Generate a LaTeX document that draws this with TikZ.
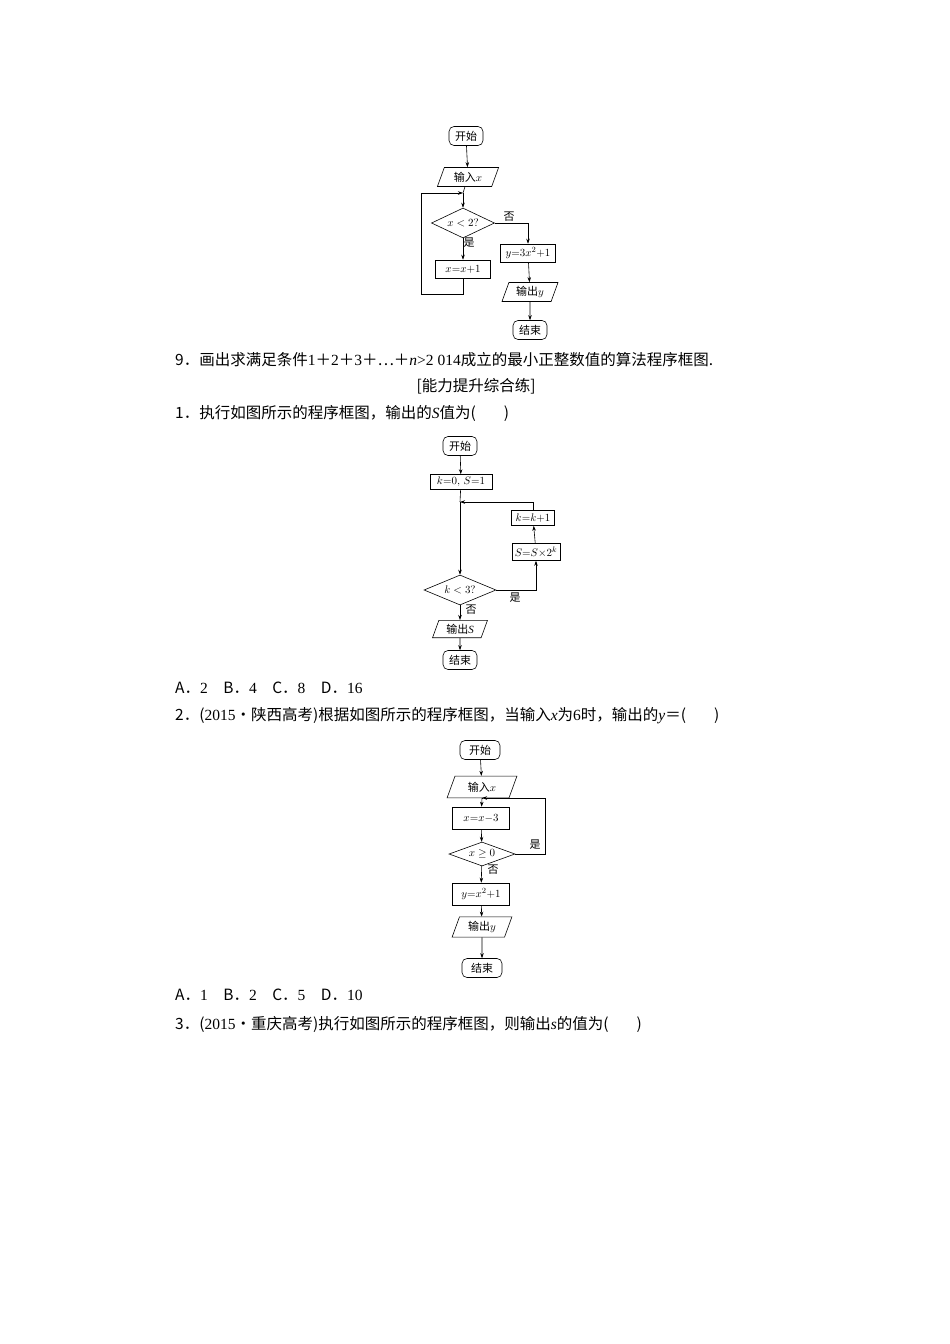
\documentclass[tikz,border=0pt]{standalone}
\usepackage{fontspec}
\setmainfont{Liberation Serif}
\newfontfamily\cjk{Noto Sans CJK SC}
\usetikzlibrary{shapes.geometric,arrows.meta}
\tikzset{
 base/.style={draw,line width=0.6pt,font=\fontsize{11}{13}\selectfont,inner sep=1pt},
 term/.style={base,rounded corners=5pt,minimum width=34pt,minimum height=19pt},
 proc/.style={base,rectangle,minimum height=18pt},
 io/.style={base,trapezium,trapezium left angle=70,trapezium right angle=110,minimum height=19pt},
 dec/.style={base,diamond,aspect=2.2,inner sep=0pt},
 ar/.style={-{Stealth[length=5pt,width=3.5pt]},line width=0.6pt},
 ln/.style={line width=0.6pt},
 lab/.style={font=\fontsize{11}{13}\selectfont\cjk},
 txt/.style={anchor=west,font=\fontsize{15.5}{17}\selectfont,inner sep=0pt}
}
\begin{document}
\begin{tikzpicture}[x=1pt,y=-1pt]
\useasboundingbox (0,0) rectangle (950,1344);
% chart 1
\node[term] (a1) at (466,136) {\cjk 开始};
\node[io,minimum width=48pt] (a2) at (468,177) {\cjk 输入$x$};
\node[dec,minimum width=63pt,minimum height=30pt] (a3) at (463,223) {$x<2?$};
\node[proc,minimum width=55pt] (a4) at (463,269) {$x{=}x{+}1$};
\node[proc,minimum width=55pt] (a5) at (528,253) {$y{=}3x^2{+}1$};
\node[io,minimum width=50pt] (a6) at (530,292) {\cjk 输出$y$};
\node[term] (a7) at (530,330) {\cjk 结束};
\coordinate (j1) at (463,193);
\draw[ar] (a1)--(a2);
\draw[ln] (a2)--(j1);
\draw[ar] (j1)--(a3);
\draw[ar] (a3)--(a4);
\draw[ar] (a3.east)-|(a5.north);
\draw[ar] (a5)--(a6);
\draw[ar] (a6)--(a7);
\draw[ar] (a4.south)--(463,294)--(421,294)--(421,193)--(j1);
\node[lab] at (509,217) {否};
\node[lab] at (469,243) {是};
% text
\node[txt] (t9) at (175,360) {\cjk 9．画出求满足条件\rmfamily 1\cjk ＋\rmfamily 2\cjk ＋\rmfamily 3\cjk ＋…＋\rmfamily\itshape n\upshape >2 014\cjk 成立的最小正整数值的算法程序框图.};
\node[font=\fontsize{15.5}{17}\selectfont,inner sep=0pt] (t0) at (476,386) {\cjk [能力提升综合练]};
\node[txt] (t1) at (175,413) {\cjk 1．执行如图所示的程序框图，输出的\rmfamily\itshape S\upshape\cjk 值为(\hspace{28pt})};
% chart 2
\node[term] (b1) at (460,446) {\cjk 开始};
\node[proc,minimum width=62pt,minimum height=15pt] (b2) at (461,482) {$k{=}0,\,S{=}1$};
\coordinate (j2) at (460,502);
\node[proc,minimum width=43pt,minimum height=15pt] (b3) at (533,518) {$k{=}k{+}1$};
\node[proc,minimum width=48pt,minimum height=17pt] (b4) at (536,552) {$S{=}S{\times}2^k$};
\node[dec,minimum width=72pt,minimum height=30pt] (b5) at (460,590) {$k<3?$};
\node[io,minimum width=55pt,minimum height=17pt] (b6) at (460,629) {\cjk 输出\rmfamily\itshape S};
\node[term] (b7) at (460,660) {\cjk 结束};
\draw[ar] (b1)--(b2);
\draw[ln] (b2)--(j2);
\draw[ar] (j2)--(b5);
\draw[ar] (b5.east)-|(b4.south);
\draw[ar] (b4)--(b3);
\draw[ar] (b3.north)|-(j2);
\draw[ar] (b5)--(b6);
\draw[ar] (b6)--(b7);
\node[lab] at (515,598) {是};
\node[lab] at (471,610) {否};
\node[txt] (tA) at (175,688) {\cjk A．\rmfamily 2\cjk 　B．\rmfamily 4\cjk 　C．\rmfamily 8\cjk 　D．\rmfamily 16};
\node[txt] (t2) at (175,716) {\cjk 2．(\rmfamily 2015\cjk ·陕西高考)根据如图所示的程序框图，当输入\rmfamily\itshape x\upshape\cjk 为\rmfamily 6\cjk 时，输出的\rmfamily\itshape y\upshape\cjk ＝(\hspace{28pt})};
% chart 3
\node[term,minimum width=40pt] (c1) at (480,750) {\cjk 开始};
\node[io,minimum width=70pt] (c2) at (482,787) {\cjk 输入$x$};
\coordinate (j3) at (482,798);
\node[proc,minimum width=57pt,minimum height=22pt] (c3) at (481,818) {$x{=}x{-}3$};
\node[dec,minimum width=66pt,minimum height=24pt] (c4) at (482,854) {$x\geq0$};
\node[proc,minimum width=57pt,minimum height=22pt] (c5) at (481,894) {$y{=}x^2{+}1$};
\node[io,minimum width=60pt] (c6) at (482,927) {\cjk 输出$y$};
\node[term,minimum width=40pt] (c7) at (482,968) {\cjk 结束};
\draw[ar] (c1)--(c2);
\draw[ln] (c2)--(j3);
\draw[ar] (j3)--(c3);
\draw[ar] (c3)--(c4);
\draw[ar] (c4.east)--(545,854)--(545,798)--(j3);
\draw[ar] (c4)--(c5);
\draw[ar] (c5)--(c6);
\draw[ar] (c6)--(c7);
\node[lab] at (535,845) {是};
\node[lab] at (493,870) {否};
\node[txt] (tB) at (175,995) {\cjk A．\rmfamily 1\cjk 　B．\rmfamily 2\cjk 　C．\rmfamily 5\cjk 　D．\rmfamily 10};
\node[txt] (t3) at (175,1024) {\cjk 3．(\rmfamily 2015\cjk ·重庆高考)执行如图所示的程序框图，则输出\rmfamily\itshape s\upshape\cjk 的值为(\hspace{28pt})};
\end{tikzpicture}
\end{document}
